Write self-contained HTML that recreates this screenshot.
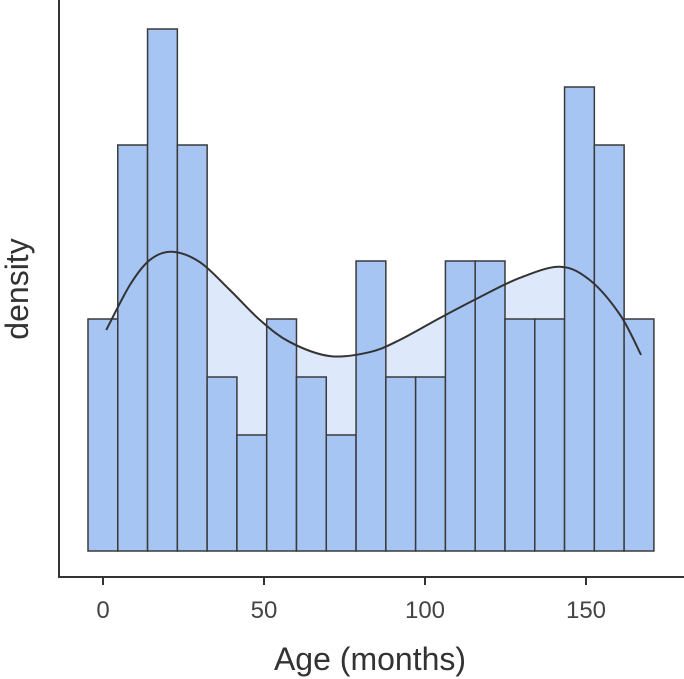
<!DOCTYPE html>
<html><head><meta charset="utf-8"><style>
html,body{margin:0;padding:0;background:#fff;}
svg{display:block;font-family:"Liberation Sans",sans-serif;}
</style></head><body>
<svg id="chart" width="684" height="679">
<g id="fillLayer"></g><g id="barLayer"></g><g id="curveLayer"></g>
<line x1="59" y1="0" x2="59" y2="578" stroke="#333" stroke-width="2"/>
<line x1="58" y1="577" x2="684" y2="577" stroke="#333" stroke-width="2"/>
<g id="tickLayer"></g>
<text x="370" y="670" font-size="32" fill="#333" text-anchor="middle">Age (months)</text>
<text transform="translate(28,289) rotate(-90)" font-size="32" fill="#333" text-anchor="middle">density</text>
</svg>
<script>
const binStart = -4.66;
const binWidth = 9.25;
const counts = [4,7,9,7,3,2,4,3,2,5,3,3,5,5,4,4,8,7,4];
const curveX = [1,8.4,14.6,21.4,30.1,39.4,48.8,58.1,70.5,82.9,92.2,104.7,117.1,129.5,141.9,151.2,160.6,167.1];
const curveY = [3.81,4.59,5.02,5.16,4.98,4.5,3.98,3.6,3.36,3.43,3.64,4.02,4.38,4.71,4.9,4.67,4.07,3.38];
const xTicks = [0,50,100,150];
const NS="http://www.w3.org/2000/svg";
const xs=v=>103+v*3.22, ys=v=>551-v*58;
function mk(t,a,p){const e=document.createElementNS(NS,t);for(const k in a)e.setAttribute(k,a[k]);p.appendChild(e);return e;}
const P=curveX.map((x,i)=>[xs(x),ys(curveY[i])]);
let d=`M${P[0][0]},${P[0][1]}`;
for(let i=0;i<P.length-1;i++){const p0=P[i-1]||P[i],p1=P[i],p2=P[i+1],p3=P[i+2]||P[i+1];
d+=` C${p1[0]+(p2[0]-p0[0])/6},${p1[1]+(p2[1]-p0[1])/6} ${p2[0]-(p3[0]-p1[0])/6},${p2[1]-(p3[1]-p1[1])/6} ${p2[0]},${p2[1]}`;}
const f=mk('path',{d:d+` L${P[P.length-1][0]},${ys(0)} L${P[0][0]},${ys(0)} Z`,fill:'#dde8fa',stroke:'none'},document.getElementById('fillLayer'));


const bl=document.getElementById('barLayer');
counts.forEach((c,i)=>{const x0=xs(binStart+i*binWidth),x1=xs(binStart+(i+1)*binWidth);
const r=mk('rect',{x:x0,y:ys(c),width:x1-x0,height:ys(0)-ys(c),fill:'#a7c5f2',stroke:'#3a3a3a','stroke-width':1.5},bl);

});
const c=mk('path',{d:d,fill:'none',stroke:'#333','stroke-width':2},document.getElementById('curveLayer'));


const tl=document.getElementById('tickLayer');
xTicks.forEach(t=>{const l=mk('line',{x1:xs(t),x2:xs(t),y1:578,y2:585,stroke:'#333','stroke-width':2},tl);


const tx=mk('text',{x:xs(t),y:618,'font-size':24,fill:'#444','text-anchor':'middle'},tl);tx.textContent=t;

});
</script>
</body></html>
